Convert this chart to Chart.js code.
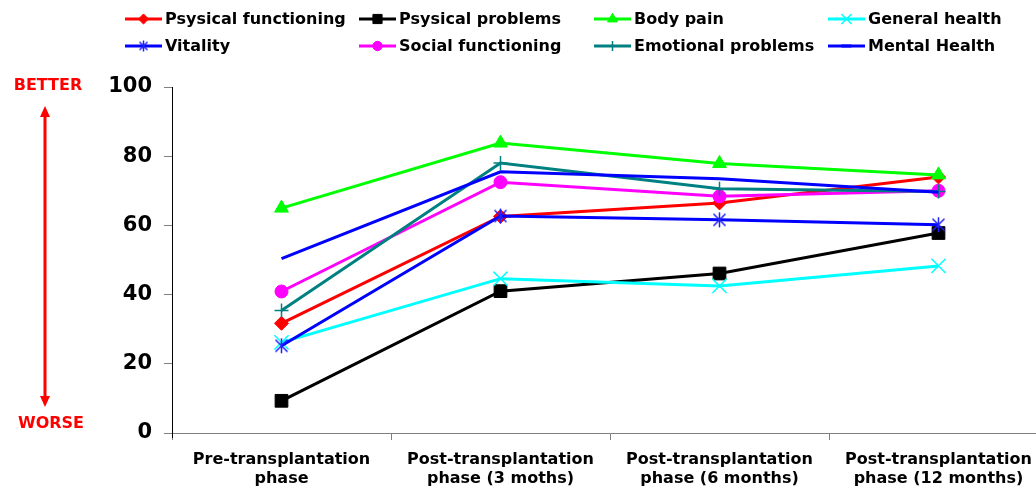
<!DOCTYPE html>
<html>
<head>
<meta charset="utf-8">
<title>Quality of life scores across transplantation phases</title>
<script src="https://cdn.jsdelivr.net/npm/chart.js@4/dist/chart.umd.min.js"></script>
<style>
  html, body { margin: 0; padding: 0; background: #ffffff; overflow: hidden; }
  #wrap { position: absolute; left: 0; top: 0; width: 1060px; height: 486px; }
</style>
</head>
<body>
<div id="wrap"><canvas id="chart"></canvas></div>
<script>
// Phases on the x axis (two-line labels)
const categories = [
  ['Pre-transplantation', 'phase'],
  ['Post-transplantation', 'phase (3 moths)'],
  ['Post-transplantation', 'phase (6 months)'],
  ['Post-transplantation', 'phase (12 months)']
];

// Mean scores per dimension
const physicalFunctioning = [31.7, 62.6, 66.5, 74.0];
const physicalProblems    = [9.3, 41.0, 46.1, 57.8];
const bodyPain            = [65.0, 83.8, 77.9, 74.6];
const generalHealth       = [26.2, 44.6, 42.5, 48.3];
const vitality            = [25.2, 62.7, 61.6, 60.2];
const socialFunctioning   = [40.9, 72.5, 68.4, 70.0];
const emotionalProblems   = [35.4, 78.0, 70.6, 69.8];
const mentalHealth        = [50.4, 75.5, 73.5, 69.6];

const yTicks = [0, 20, 40, 60, 80, 100];

// Asterisk marker: vertical bar plus diagonal cross
function makeAsterisk(color, size) {
  const c = document.createElement('canvas');
  c.width = size; c.height = size;
  const g = c.getContext('2d');
  const m = size / 2, e = size - 2.5;
  g.strokeStyle = color;
  g.lineWidth = 1.5;
  g.beginPath();
  g.moveTo(m, 1); g.lineTo(m, size - 1);
  g.moveTo(2.5, 2.5); g.lineTo(e, e);
  g.moveTo(e, 2.5); g.lineTo(2.5, e);
  g.stroke();
  return c;
}

const series = [
  { label: 'Psysical functioning', data: physicalFunctioning, color: '#ff0000', style: 'rectRot',  radius: 7,   pbw: 1 },
  { label: 'Psysical problems',    data: physicalProblems,    color: '#000000', style: 'rect',     radius: 9,   pbw: 1 },
  { label: 'Body pain',            data: bodyPain,            color: '#00ff00', style: 'triangle', radius: 8,   pbw: 1 },
  { label: 'General health',       data: generalHealth,       color: '#00ffff', style: 'crossRot', radius: 10,  pbw: 1.5 },
  { label: 'Vitality',             data: vitality,            color: '#0000ff', style: makeAsterisk('#2020ff', 17), legendStyle: makeAsterisk('#2020ff', 13), radius: 8, pbw: 1 },
  { label: 'Social functioning',   data: socialFunctioning,   color: '#ff00ff', style: 'circle',   radius: 6.5, pbw: 1 },
  { label: 'Emotional problems',   data: emotionalProblems,   color: '#008080', style: 'cross',    radius: 7,   pbw: 1.5 },
  { label: 'Mental Health',        data: mentalHealth,        color: '#0000ff', style: 'line',     radius: 0,   legendRadius: 5, pbw: 3 }
];

const datasets = series.map((s, i) => ({
  label: s.label,
  data: s.data,
  borderColor: s.color,
  backgroundColor: s.color,
  borderWidth: 3,
  pointStyle: s.style,
  pointRadius: s.radius,
  pointHoverRadius: s.radius,
  pointBorderWidth: s.pbw,
  pointBorderColor: s.color,
  pointBackgroundColor: s.color,
  tension: 0,
  order: series.length - i
}));

// Four-column legend at the top of the canvas
const columnLegend = {
  id: 'columnLegend',
  afterDraw(chart) {
    const ctx = chart.ctx;
    const colX = [125, 359, 594, 828];
    const rowY = [19, 46];
    ctx.save();
    ctx.font = 'bold 16px "DejaVu Sans"';
    ctx.textBaseline = 'middle';
    ctx.textAlign = 'left';
    series.forEach((s, i) => {
      const x = colX[i % 4];
      const y = rowY[Math.floor(i / 4)];
      ctx.strokeStyle = s.color;
      ctx.lineWidth = 3;
      ctx.beginPath();
      ctx.moveTo(x, y);
      ctx.lineTo(x + 37, y);
      ctx.stroke();
      ctx.fillStyle = s.color;
      ctx.lineWidth = s.pbw;
      Chart.helpers.drawPoint(ctx, {
        pointStyle: s.legendStyle || s.style,
        radius: s.legendRadius || s.radius * 0.72,
        rotation: 0,
        borderWidth: s.pbw
      }, x + 18.5, y);
      ctx.fillStyle = '#000000';
      ctx.fillText(s.label, x + 40, y + 1);
    });
    ctx.restore();
  }
};

// Red double arrow with BETTER / WORSE captions beside the y axis
const directionArrow = {
  id: 'directionArrow',
  afterDraw(chart) {
    const ctx = chart.ctx;
    const x = 45, top = 106, bottom = 407;
    ctx.save();
    ctx.strokeStyle = '#ff0000';
    ctx.fillStyle = '#ff0000';
    ctx.lineWidth = 3;
    ctx.beginPath();
    ctx.moveTo(x, top + 8);
    ctx.lineTo(x, bottom - 8);
    ctx.stroke();
    ctx.beginPath();
    ctx.moveTo(x, top); ctx.lineTo(x - 5, top + 11); ctx.lineTo(x + 5, top + 11); ctx.closePath();
    ctx.fill();
    ctx.beginPath();
    ctx.moveTo(x, bottom); ctx.lineTo(x - 5, bottom - 11); ctx.lineTo(x + 5, bottom - 11); ctx.closePath();
    ctx.fill();
    ctx.font = 'bold 16px "DejaVu Sans"';
    ctx.textAlign = 'center';
    ctx.textBaseline = 'middle';
    ctx.fillText('BETTER', 48, 86);
    ctx.fillText('WORSE', 51, 424);
    // short extension of the y axis below zero
    ctx.strokeStyle = '#000000';
    ctx.lineWidth = 1;
    const a = chart.chartArea;
    ctx.beginPath();
    ctx.moveTo(Math.round(a.left) + 0.5, a.bottom);
    ctx.lineTo(Math.round(a.left) + 0.5, a.bottom + 5);
    ctx.stroke();
    ctx.restore();
  }
};

new Chart(document.getElementById('chart'), {
  type: 'line',
  data: { labels: categories, datasets },
  plugins: [columnLegend, directionArrow],
  options: {
    responsive: true,
    maintainAspectRatio: false,
    animation: false,
    layout: { padding: { top: 87, right: 12, bottom: 0, left: 0 } },
    plugins: {
      legend: { display: false },
      tooltip: { enabled: false }
    },
    scales: {
      x: {
        offset: true,
        grid: { drawOnChartArea: false, drawTicks: true, tickLength: 7, color: '#808080', offset: true },
        border: { color: '#808080', width: 1 },
        ticks: {
          color: '#000000',
          font: { family: '"DejaVu Sans"', size: 16, weight: 'bold', lineHeight: 1.2 },
          padding: 10,
          maxRotation: 0,
          autoSkip: false
        },
        afterFit(scale) { scale.height = 53; }
      },
      y: {
        min: 0,
        max: 100,
        afterBuildTicks(scale) { scale.ticks = yTicks.map(v => ({ value: v })); },
        grid: { drawOnChartArea: false, drawTicks: true, tickLength: 8, color: '#808080' },
        border: { color: '#000000', width: 1 },
        ticks: {
          color: '#000000',
          font: { family: '"DejaVu Sans"', size: 21, weight: 'bold' },
          padding: 12
        },
        afterFit(scale) { scale.width = 172; }
      }
    }
  }
});
</script>
</body>
</html>
